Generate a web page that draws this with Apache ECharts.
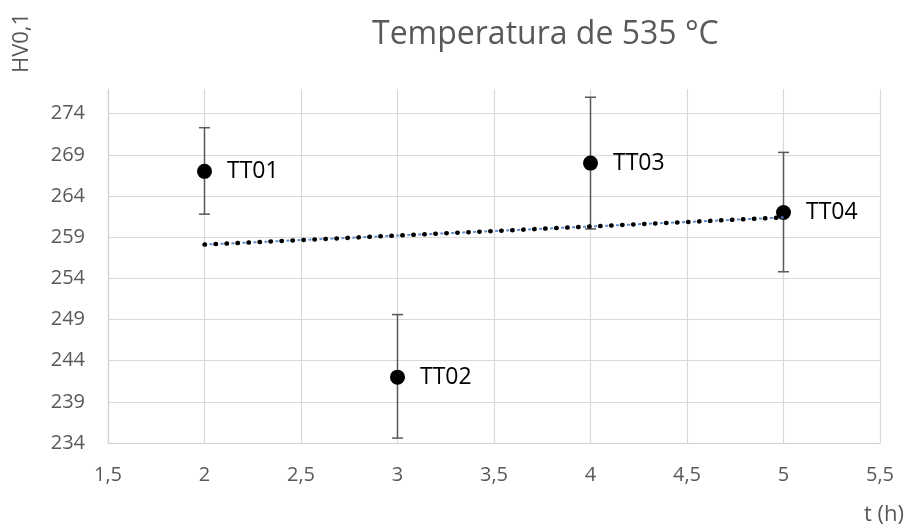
<!DOCTYPE html>
<html>
<head>
<meta charset="utf-8">
<script src="https://cdn.jsdelivr.net/npm/echarts@6/dist/echarts.min.js"></script>
<style>html,body{margin:0;padding:0;background:#fff}#c{width:910px;height:528px}</style>
</head>
<body>
<div id="c"></div>
<script>
const names = ['TT01', 'TT02', 'TT03', 'TT04'];
const tHours = [2, 3, 4, 5];
const hv = [267, 242, 268, 262];
const errHigh = [272.3, 249.6, 276.0, 269.3];
const errLow = [261.8, 234.6, 260.0, 254.8];
const trendX = [2, 5];
const trendY = [258.1, 261.4];

const FONT = '"Open Sans", "Liberation Sans", sans-serif';
const chart = echarts.init(document.getElementById('c'), null, {renderer: 'canvas'});

const points = tHours.map((x, i) => ({value: [x, hv[i]], name: names[i]}));
const errData = tHours.map((x, i) => [x, errLow[i], errHigh[i]]);
const trendData = trendX.map((x, i) => [x, trendY[i]]);

chart.setOption({
  animation: false,
  backgroundColor: '#fff',
  title: {
    text: 'Temperatura de 535 °C',
    left: 367, top: 14,
    textStyle: {fontFamily: FONT, fontSize: 32, fontWeight: 'normal', color: '#595959'}
  },
  graphic: [
    {type: 'text', x: 22, y: 43, rotation: Math.PI / 2,
     style: {text: 'HV0,1', fontFamily: FONT, fontSize: 22, fill: '#595959', align: 'center', verticalAlign: 'middle'}},
    {type: 'text', x: 884, y: 515,
     style: {text: 't (h)', fontFamily: FONT, fontSize: 22, fill: '#595959', align: 'center', verticalAlign: 'middle'}}
  ],
  grid: {left: 108, right: 30, top: 89, bottom: 85, containLabel: false},
  xAxis: {
    type: 'value', min: 1.5, max: 5.5, interval: 0.5,
    axisLine: {show: true, lineStyle: {color: '#d0d0d0', width: 1.2}},
    axisTick: {show: false},
    axisLabel: {margin: 22, color: '#595959', fontFamily: FONT, fontSize: 20,
      formatter: v => String(v).replace('.', ',')},
    splitLine: {show: true, lineStyle: {color: '#d9d9d9', width: 1.2}}
  },
  yAxis: {
    type: 'value', min: 234, max: 277, interval: 5,
    axisLine: {show: true, lineStyle: {color: '#d0d0d0', width: 1.2}},
    axisTick: {show: false},
    axisLabel: {margin: 23, color: '#595959', fontFamily: FONT, fontSize: 20, showMaxLabel: false},
    splitLine: {show: true, showMaxLine: false, lineStyle: {color: '#d9d9d9', width: 1.2}}
  },
  series: [
    {
      type: 'custom', name: 'err', z: 3,
      renderItem: (params, api) => {
        const x = api.value(0);
        const lo = api.coord([x, api.value(1)]);
        const hi = api.coord([x, api.value(2)]);
        const w = 5.5;
        const style = {stroke: '#595959', lineWidth: 1.5};
        return {type: 'group', children: [
          {type: 'line', shape: {x1: lo[0], y1: lo[1], x2: hi[0], y2: hi[1]}, style},
          {type: 'line', shape: {x1: lo[0] - w, y1: lo[1], x2: lo[0] + w, y2: lo[1]}, style},
          {type: 'line', shape: {x1: hi[0] - w, y1: hi[1], x2: hi[0] + w, y2: hi[1]}, style}
        ]};
      },
      data: errData
    },
    {
      type: 'scatter', name: 'HV', z: 4,
      symbol: 'circle', symbolSize: 15,
      itemStyle: {color: '#000', opacity: 1},
      label: {show: true, position: 'right', distance: 15, formatter: p => p.name,
        color: '#000', fontFamily: FONT, fontSize: 23},
      data: points
    },
    {
      type: 'line', name: 'trend-blue', z: 5, symbol: 'none', silent: true,
      lineStyle: {color: '#5b8fd0', width: 2, type: [3, 8], dashOffset: -5},
      data: trendData
    },
    {
      type: 'line', name: 'trend', z: 6, symbol: 'none', silent: true,
      lineStyle: {color: '#000', width: 4.5, type: [0.5, 10.5], cap: 'round'},
      data: trendData
    }
  ]
});
</script>
</body>
</html>
